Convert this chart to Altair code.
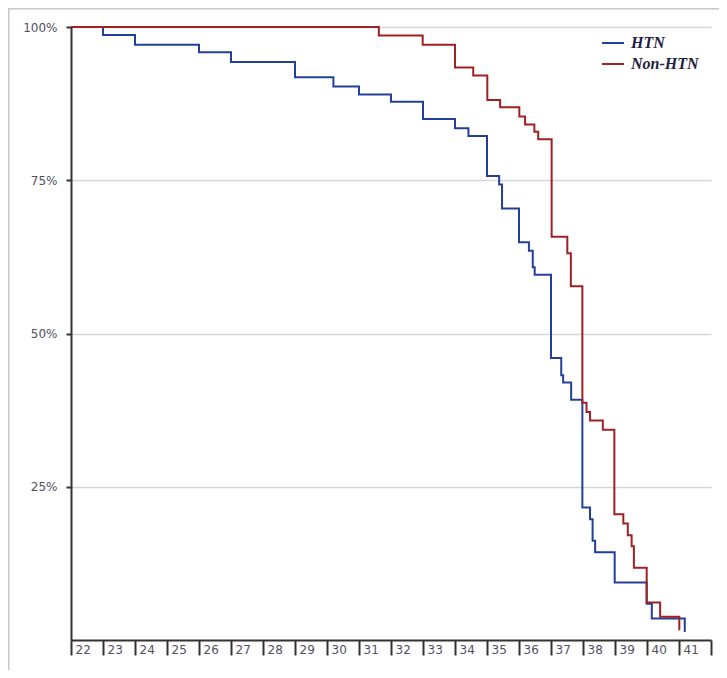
import altair as alt
import pandas as pd

# ---- data (gestational week, cumulative proportion still pregnant) ----
htn_weeks = [22.0, 23.0, 24.0, 26.0, 27.0, 29.0, 30.2, 31.0, 32.0, 33.0, 34.0, 34.42,
             35.0, 35.38, 35.47, 36.0, 36.31, 36.43, 36.49, 37.0, 37.32, 37.38, 37.63,
             37.98, 38.22, 38.3, 38.38, 38.99, 39.99, 40.15, 41.18]
htn_surv = [1.0, 0.987, 0.971, 0.959, 0.943, 0.918, 0.903, 0.890, 0.878, 0.850, 0.835, 0.822,
            0.757, 0.743, 0.704, 0.649, 0.635, 0.608, 0.596, 0.460, 0.432, 0.420, 0.392,
            0.216, 0.197, 0.162, 0.143, 0.094, 0.059, 0.035, 0.013]

non_weeks = [22.0, 31.62, 32.99, 34.0, 34.57, 35.01, 35.41, 36.01, 36.19, 36.48, 36.6,
             37.02, 37.51, 37.62, 37.98, 38.11, 38.22, 38.62, 38.98, 39.26, 39.4, 39.52,
             39.59, 39.99, 40.41, 41.01]
non_surv = [1.0, 0.986, 0.971, 0.934, 0.921, 0.881, 0.869, 0.854, 0.841, 0.829, 0.817,
            0.658, 0.631, 0.577, 0.387, 0.372, 0.358, 0.343, 0.205, 0.190, 0.171, 0.153,
            0.118, 0.061, 0.038, 0.016]

series = ["HTN", "Non-HTN"]
colors = ["#22409A", "#A02124"]
x_ticks = list(range(22, 43))
y_ticks = [0.25, 0.5, 0.75, 1.0]

df = pd.concat([
    pd.DataFrame({"week": htn_weeks, "surv": htn_surv, "group": series[0]}),
    pd.DataFrame({"week": non_weeks, "surv": non_surv, "group": series[1]}),
], ignore_index=True)

lines = alt.Chart(df).mark_line(interpolate="step-after", strokeWidth=2).encode(
    x=alt.X("week:Q",
            scale=alt.Scale(domain=[22, 42], nice=False, zero=False),
            axis=alt.Axis(values=x_ticks, format="d", title=None, grid=False,
                          labelAlign="left", labelOffset=4, labelBaseline="top",
                          labelPadding=-11, tickSize=15, labelFlush=False,
                          labelOverlap=False,
                          labelExpr="datum.value == 42 ? '' : datum.label")),
    y=alt.Y("surv:Q",
            scale=alt.Scale(domain=[0, 1], nice=False),
            axis=alt.Axis(values=y_ticks, format=".0%", title=None, grid=True,
                          tickSize=5, labelPadding=9)),
    color=alt.Color("group:N",
                    scale=alt.Scale(domain=series, range=colors),
                    legend=alt.Legend(title=None, orient="none", legendX=530, legendY=4,
                                      symbolType="stroke", symbolSize=484,
                                      symbolStrokeWidth=2, labelFont="Liberation Serif",
                                      labelFontStyle="italic", labelFontWeight="bold",
                                      labelFontSize=16, labelColor="#1e2040",
                                      labelOffset=6, rowPadding=1, padding=0)),
)

frame = pd.DataFrame({"k": [0]})
left_border = alt.Chart(frame).mark_rule(color="#c8c8c8", strokeWidth=1.5).encode(
    x=alt.value(-62.25), y=alt.value(-19), y2=alt.value(660))
top_border = alt.Chart(frame).mark_rule(color="#c8c8c8", strokeWidth=1.5).encode(
    x=alt.value(-63), x2=alt.value(660), y=alt.value(-18.25))

chart = alt.layer(left_border, top_border, lines).properties(
    width=640, height=613,
    autosize=alt.AutoSizeParams(type="none"),
    padding={"left": 63, "top": 19, "right": 8, "bottom": 30},
).configure_view(stroke=None).configure_axis(
    domainColor="#333333", domainWidth=2, tickColor="#333333", tickWidth=2,
    gridColor="#d6d6d6", gridWidth=1.5,
    labelFont="DejaVu Sans", labelFontSize=12, labelColor="#505060",
)

chart.save("out.html", embed_options={"renderer": "svg", "actions": False})
